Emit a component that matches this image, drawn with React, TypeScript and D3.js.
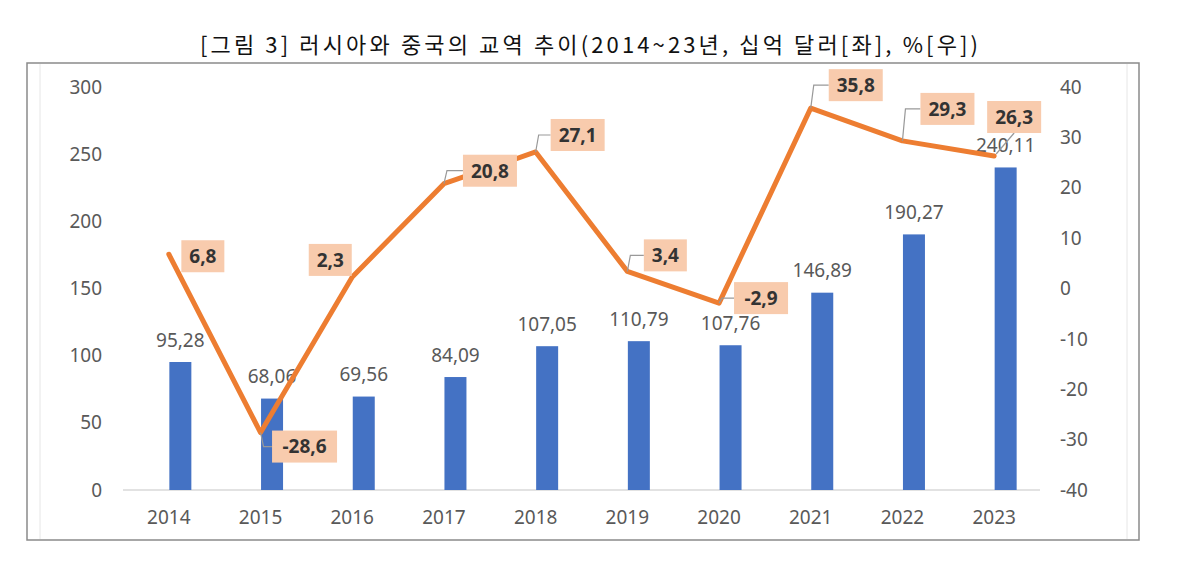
import React from "react";
import * as d3 from "d3";

const years = ["2014", "2015", "2016", "2017", "2018", "2019", "2020", "2021", "2022", "2023"];
const tradeValues = [95.28, 68.06, 69.56, 84.09, 107.05, 110.79, 107.76, 146.89, 190.27, 240.11];
const growthRates = [6.8, -28.6, 2.3, 20.8, 27.1, 3.4, -2.9, 35.8, 29.3, 26.3];
const leftTicks = [0, 50, 100, 150, 200, 250, 300];
const rightTicks = [-40, -30, -20, -10, 0, 10, 20, 30, 40];
const title = "[그림 3] 러시아와 중국의 교역 추이(2014~23년, 십억 달러[좌], %[우])";

// label placement (layout only): offset of label centre from its point, and whether a leader is drawn
const labelOffsets: [number, number, string][] = [
  [34, 2, "none"],
  [44, 14, "elbow"],
  [-22, -17, "none"],
  [46, -13, "elbow"],
  [42, -17, "elbow"],
  [38, -16, "elbow"],
  [42, -5, "elbow"],
  [45, -23, "elbow"],
  [45, -32, "elbow"],
  [20, -39, "diag"],
];

const fmt = (v: number) => v.toFixed(2).replace(".", ",");
const fmt1 = (v: number) => v.toFixed(1).replace(".", ",");

export default function App() {
  const W = 1199, H = 586;
  const plotL = 123, plotR = 1040, plotT = 87, plotB = 490;
  const x = d3.scaleBand<string>().domain(years).range([plotL, plotR]);
  const yL = d3.scaleLinear().domain([0, 300]).range([plotB, plotT]);
  const yR = d3.scaleLinear().domain([-40, 40]).range([plotB, plotT]);
  const cx = (y: string) => (x(y) as number) + x.bandwidth() / 2;
  const barW = 22;
  const lineGen = d3.line<number>().x((_, i) => cx(years[i])).y((d) => yR(d));
  const font = "'Noto Sans', 'Open Sans', sans-serif";
  const gray = "#595959";

  return (
    <svg width={W} height={H} style={{ position: "absolute", left: 0, top: 0, background: "#fff" }}>
      <text x={589} y={53} textAnchor="middle" fontFamily="'Noto Sans CJK KR', sans-serif" fontSize={22} fill="#111" textLength={778} lengthAdjust="spacing">
        {title}
      </text>
      <rect x={27} y={63} width={1112} height={477} fill="#fff" stroke="#8a8a8a" strokeWidth={1.5} />
      <line x1={40} x2={40} y1={64} y2={539} stroke="#e6e6e6" strokeWidth={1} />
      <line x1={1127} x2={1127} y1={64} y2={539} stroke="#e6e6e6" strokeWidth={1} />

      {leftTicks.map((t) => (
        <text key={"l" + t} x={102} y={yL(t)} dy="0.35em" textAnchor="end" fontFamily={font} fontSize={19} fill={gray}>
          {t}
        </text>
      ))}
      {rightTicks.map((t) => (
        <text key={"r" + t} x={1060} y={yR(t)} dy="0.35em" textAnchor="start" fontFamily={font} fontSize={19} fill={gray}>
          {t}
        </text>
      ))}
      <line x1={plotL} x2={plotR} y1={plotB} y2={plotB} stroke="#d9d9d9" strokeWidth={1.5} />
      {years.map((yr) => (
        <text key={"x" + yr} x={cx(yr)} y={517} dy="0.35em" textAnchor="middle" fontFamily={font} fontSize={19} fill={gray}>
          {yr}
        </text>
      ))}

      {tradeValues.map((v, i) => (
        <rect key={"b" + i} x={cx(years[i]) + 0.5} y={yL(v)} width={barW} height={plotB - yL(v)} fill="#4472C4" />
      ))}
      {tradeValues.map((v, i) => (
        <text key={"bl" + i} x={cx(years[i]) + 0.5 + barW / 2} y={yL(v) - 22} dy="0.35em" textAnchor="middle" fontFamily={font} fontSize={19} fill={gray}>
          {fmt(v)}
        </text>
      ))}

      <path d={lineGen(growthRates) || ""} fill="none" stroke="#ED7D31" strokeWidth={5} strokeLinejoin="round" strokeLinecap="round" />

      {growthRates.map((v, i) => {
        const px = cx(years[i]);
        const py = yR(v);
        const [dx, dy, kind] = labelOffsets[i];
        const lx = px + dx, ly = py + dy;
        const txt = fmt1(v);
        const bw = txt.length * 11 + 10;
        const bh = 32;
        let leader = null;
        if (kind === "elbow") {
          const ex = px + 3;
          leader = <polyline points={`${px},${py} ${ex},${ly} ${lx - bw / 2},${ly}`} fill="none" stroke="#999" strokeWidth={1.2} />;
        } else if (kind === "diag") {
          leader = <line x1={px + 2} y1={py - 2} x2={lx} y2={ly + bh / 2} stroke="#999" strokeWidth={1.2} />;
        }
        return (
          <g key={"ll" + i}>
            {leader}
            <rect x={lx - bw / 2} y={ly - bh / 2} width={bw} height={bh} fill="#F8CBAD" />
            <text x={lx} y={ly} dy="0.36em" textAnchor="middle" fontFamily={font} fontWeight="bold" fontSize={19} fill="#333">
              {txt}
            </text>
          </g>
        );
      })}
    </svg>
  );
}
